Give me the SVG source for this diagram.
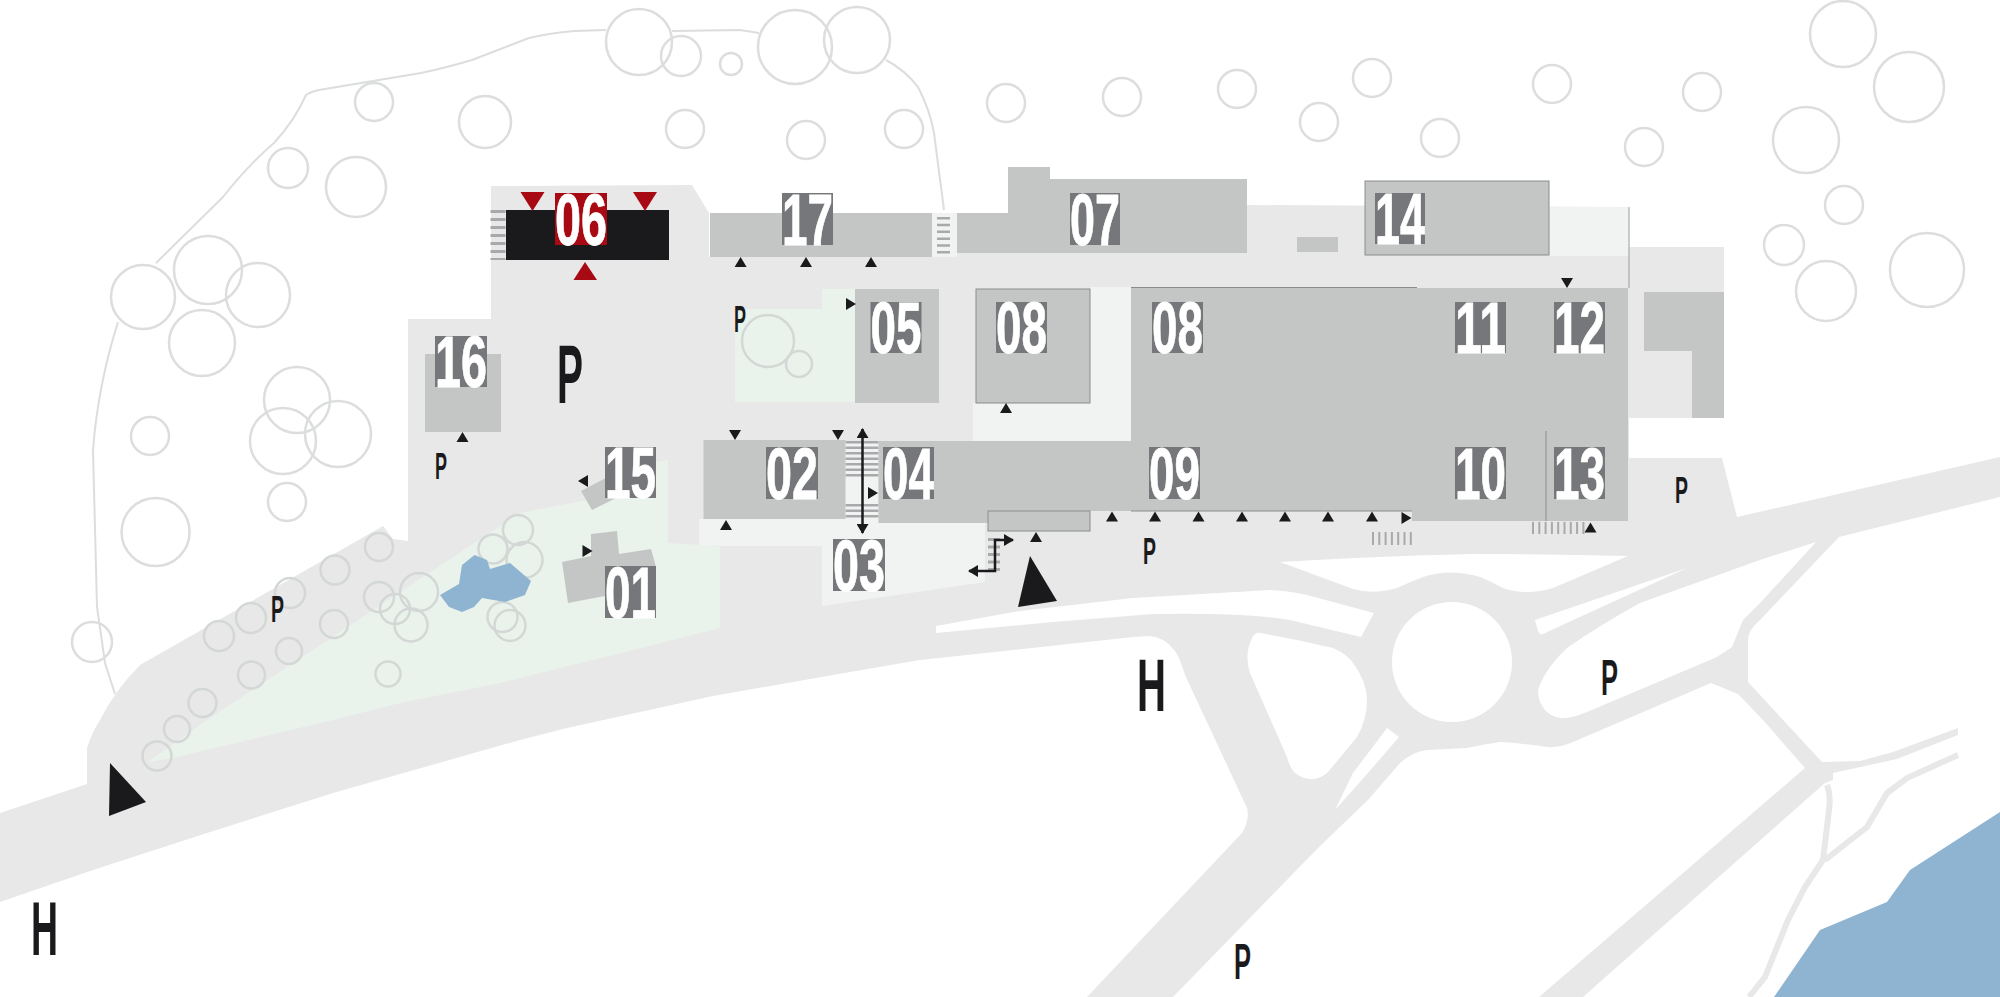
<svg xmlns="http://www.w3.org/2000/svg" xmlns:xlink="http://www.w3.org/1999/xlink" width="2000" height="997" viewBox="0 0 2000 997">
<style>
.b{fill:#c4c6c6}
.bs{fill:#c4c6c6;stroke:#8b8d8d;stroke-width:1}
.t{fill:none;stroke:#dcdddd;stroke-width:2.5}
.tg{fill:none;stroke:#d3d7d5;stroke-width:2.5}
.path{fill:none;stroke:#dcdddd;stroke-width:2}
.box{fill:#76777a}
.num{font-family:"Liberation Sans",Arial,sans-serif;font-weight:700;font-size:72px;fill:#fff;stroke:#fff;stroke-width:.8}
.mark{font-family:"Liberation Sans",Arial,sans-serif;font-weight:700;fill:#1a1a1c}
.road{fill:#e8e8e9}
.lite{fill:#f1f2f2}
.green{fill:#e9f3ec}
.water{fill:#8fb4d2}
.k{fill:#1a1a1c}
.red{fill:#a80a14}
.st{fill:none;stroke:#a8a9ab}
.thin{fill:none;stroke:#e8e8e9;stroke-width:6}
.arr{fill:none;stroke:#1a1a1c;stroke-width:2.5}
</style>
<defs>
<path id="tu" d="M0,-5 L6,5 L-6,5Z"/>
<path id="td" d="M0,5 L6,-5 L-6,-5Z"/>
<path id="tr" d="M5,0 L-5,6 L-5,-6Z"/>
<path id="tl" d="M-5,0 L5,6 L5,-6Z"/>
<marker id="ah" viewBox="0 0 10 12" refX="9" refY="6" markerWidth="10" markerHeight="12" markerUnits="userSpaceOnUse" orient="auto-start-reverse"><path d="M0,0 L10,6 L0,12Z" fill="#1a1a1c"/></marker>
</defs>
<rect width="2000" height="997" fill="#fff"/>
<g id="ground">
<path class="road" d="M0,813 L87,784 L87,748 Q92,732 100,720 Q115,690 140,665 L383,526 L393,539 L408,541 L408,319 L491,319 L491,186 L692,185 L709,213 L709,257 L957,257 L957,253 L1247,253 L1247,205 L1629,207 L1629,247 L1724,247 L1724,418 L1629,418 L1629,458 L1722,458 L1737,517 L2000,457 L2000,497 L1839,537 L1760,620 Q1748,630 1748,640 L1748,682 L1822,762 L1860,761 L1893,752 L1958,728 L1958,735 L1897,759 L1833,773 L1833,780 L1825,783 L1583,997 L1539,997 L1805,768 L1763,720 L1738,694 L1711,683 L1573,742 Q1560,748 1547,747 Q1520,743 1500,742 Q1485,744 1467,748 L1427,750 Q1412,752 1400,763 L1368,800 L1319,847 L1173,997 L1087,997 L1242,833 Q1250,820 1247,808 L1185,675 Q1178,652 1172,648 Q1165,638 1150,636 L1133,637 L920,660 L850,672 L713,696 L567,728 L520,740 L333,793 L207,833 L93,870 L0,902Z"/>
<path class="lite" d="M1549,207 L1629,207 L1629,256 L1549,256Z"/>
<path class="lite" d="M699,519 L880,519 L880,523 L985,523 L985,582 L822,606 L822,546 L699,546Z"/>
<path class="lite" d="M973,403 L1090,403 L1090,287 L1131,287 L1131,441 L973,441Z"/>
<path class="lite" d="M845,441 H878 V519 H845Z"/>
<path class="lite" d="M932,213 H957 V257 H932Z"/>
<path fill="none" stroke="#9a9c9c" stroke-width="1" d="M1629,207 V288"/>
<path class="green" d="M735,309 L822,309 L822,289 L855,289 L855,402 L735,402Z"/>
<path class="green" d="M148,762 L207,720 L520,513 L602,497 L655,462 L668,460 L668,543 L699,545 L720,547 L720,628 L633,650 L500,683 L400,703 L333,720 L173,758Z"/>
<g fill="#fff">
<path d="M936,626 L1020,611 L1133,598 L1270,590 Q1290,591 1307,595 L1374,613 L1361,637 L1290,620 Q1265,616 1240,615 Q1200,613 1153,614 L1053,622 L936,633Z"/>
<circle cx="1452" cy="662" r="60"/>
<path d="M1280,562 Q1380,556 1473,554 Q1550,554 1628,556 L1553,588 Q1527,596 1503,588 Q1490,581 1480,577 Q1450,568 1423,577 Q1408,583 1397,588 Q1373,595 1353,589Z"/>
<path d="M1261,633 L1297,640 L1333,648 Q1348,655 1353,663 Q1367,682 1367,700 Q1367,720 1357,737 L1328,772 Q1313,786 1295,773 Q1290,768 1287,757 L1250,673 Q1244,655 1252,638 Q1255,632 1261,633Z"/>
<path d="M1387,728 L1399,737 L1368,773 L1335,810 L1353,773Z"/>
<path d="M1535,620 L1687,568 L1547,632 Q1540,637 1538,631Z"/>
<path d="M1538,690 Q1542,678 1550,667 Q1558,656 1567,648 Q1600,625 1640,603 L1760,560 L1816,542 L1760,603 L1743,620 L1732,647 L1717,657 L1587,712 Q1570,719 1560,718 Q1550,716 1545,710 Q1538,702 1538,690Z"/>
</g>
<path class="thin" stroke-width="7" d="M1827,785 Q1831,795 1829,810 L1823,860 L1805,887 L1788,920 L1765,977 L1749,997"/>
<path class="thin" d="M1825,860 L1867,827 L1887,793 L1907,778 L1958,755"/>
<path class="water" d="M2000,812 L1910,870 L1887,902 L1820,930 L1774,997 L2000,997Z"/>
</g>
<g id="garden">
<path class="path" d="M606,30 L574,31 Q550,33 529,38 L472,60 Q445,68 421,73 L319,90 Q310,92 306,95 Q295,120 274,143 Q248,165 223,197 L156,263"/>
<path class="path" d="M118,322 Q98,385 93,450 L97,607 L105,663 L115,694"/>
<path class="path" d="M672,31 L740,30 L759,33"/>
<path class="path" d="M886,60 Q905,70 918,87 Q930,110 934,133 L944,210"/>
<circle class="t" cx="639" cy="42" r="33"/><circle class="t" cx="681" cy="56" r="20"/><circle class="t" cx="731" cy="64" r="11"/><circle class="t" cx="795" cy="47" r="37"/><circle class="t" cx="857" cy="40" r="33"/><circle class="t" cx="374" cy="102" r="19"/><circle class="t" cx="485" cy="122" r="26"/><circle class="t" cx="288" cy="168" r="20"/><circle class="t" cx="356" cy="187" r="30"/><circle class="t" cx="685" cy="129" r="19"/><circle class="t" cx="806" cy="140" r="19"/><circle class="t" cx="904" cy="129" r="19"/><circle class="t" cx="1006" cy="103" r="19"/><circle class="t" cx="1122" cy="97" r="19"/><circle class="t" cx="1237" cy="89" r="19"/><circle class="t" cx="1372" cy="78" r="19"/><circle class="t" cx="1319" cy="122" r="19"/><circle class="t" cx="1440" cy="138" r="19"/><circle class="t" cx="1552" cy="84" r="19"/><circle class="t" cx="1644" cy="147" r="19"/><circle class="t" cx="1702" cy="92" r="19"/><circle class="t" cx="1843" cy="34" r="33"/><circle class="t" cx="1909" cy="87" r="35"/><circle class="t" cx="1806" cy="140" r="33"/><circle class="t" cx="1844" cy="205" r="19"/><circle class="t" cx="1784" cy="245" r="20"/><circle class="t" cx="1826" cy="291" r="30"/><circle class="t" cx="1927" cy="270" r="37"/>
<circle class="t" cx="143" cy="297" r="32"/><circle class="t" cx="208" cy="270" r="34"/><circle class="t" cx="258" cy="295" r="32"/><circle class="t" cx="202" cy="343" r="33"/><circle class="t" cx="297" cy="400" r="33"/><circle class="t" cx="338" cy="434" r="33"/><circle class="t" cx="283" cy="441" r="33"/><circle class="t" cx="150" cy="436" r="19"/><circle class="t" cx="287" cy="502" r="19"/><circle class="t" cx="155.6" cy="532" r="34"/><circle class="t" cx="92" cy="642" r="20"/>
<circle class="tg" cx="379" cy="547" r="14"/><circle class="tg" cx="335" cy="570" r="14.5"/><circle class="tg" cx="290" cy="593" r="15"/><circle class="tg" cx="251" cy="618" r="15"/><circle class="tg" cx="219" cy="636" r="15"/><circle class="tg" cx="289" cy="651" r="13"/><circle class="tg" cx="251.5" cy="675" r="13.5"/><circle class="tg" cx="202.5" cy="703" r="14"/><circle class="tg" cx="177" cy="729" r="13"/><circle class="tg" cx="157" cy="756" r="14.5"/><circle class="tg" cx="334" cy="624" r="14"/><circle class="tg" cx="379" cy="597" r="15"/><circle class="tg" cx="395" cy="609" r="15"/><circle class="tg" cx="419" cy="592" r="19"/><circle class="tg" cx="411" cy="625" r="16.5"/><circle class="tg" cx="388" cy="674" r="12.5"/><circle class="tg" cx="518" cy="530" r="15"/><circle class="tg" cx="493" cy="549" r="14.5"/><circle class="tg" cx="524.5" cy="560" r="18"/><circle class="tg" cx="502.5" cy="617" r="15"/><circle class="tg" cx="510" cy="625.5" r="15.5"/><circle class="tg" cx="768" cy="341" r="26"/><circle class="tg" cx="799" cy="364" r="13"/>
<path class="water" d="M440,595 L459,584 L462,565 L474.5,555 L487,560 L490,569 L510,563 L531,581 L525,595 L505,602 L482,598 L474,607 L462,612 L449,607Z"/>
</g>
<g id="stairs">
<path class="st" stroke-width="15" stroke-dasharray="3 5" d="M498,210 V260"/>
<path class="st" stroke-width="13" stroke-dasharray="2.500 4.300" d="M943.500,217 V254"/>
<path class="st" stroke-width="33" stroke-dasharray="2.500 3" d="M862,441 V477"/>
<path class="st" stroke-width="33" stroke-dasharray="2.500 3" d="M862,504 V519"/>
<path class="st" stroke-width="12" stroke-dasharray="3 4.500" d="M994,538 V574"/>
<path class="st" stroke-width="13" stroke-dasharray="2 4.300" d="M1372,538.500 H1412"/>
<path class="st" stroke-width="12" stroke-dasharray="2 4.300" d="M1532,528 H1585"/>
</g>
<g id="other-buildings">
<path class="b" d="M1644,292 H1724 V418 H1692 V351 H1644Z"/>
<rect class="b" x="1297" y="237" width="41" height="15"/>
<path class="b" d="M1131,288 H1628 V521 H1412 V511 H1090 V441 H1131Z"/>
</g>
<g id="n01"><path class="b" d="M562,562 L591,556 V534 L617,531 L619,554 L651,549 L656,567 V600 L605,596 L568,603Z"/><rect class="box" x="605" y="566" width="51" height="52"/><text class="num" x="605" y="618" textLength="51" lengthAdjust="spacingAndGlyphs">01</text></g>
<g id="n02"><rect class="b" x="703.500" y="440" width="142" height="79"/><rect class="box" x="766" y="447" width="52" height="52"/><text class="num" x="766" y="499" textLength="52" lengthAdjust="spacingAndGlyphs">02</text></g>
<g id="n03"><rect class="box" x="833" y="539" width="52" height="52"/><text class="num" x="833" y="591" textLength="52" lengthAdjust="spacingAndGlyphs">03</text></g>
<g id="n04"><path class="b" d="M878.500,441 H1131 V511 H988 V523 H878.500Z"/><rect class="box" x="883" y="447" width="51" height="52"/><text class="num" x="883" y="499" textLength="51" lengthAdjust="spacingAndGlyphs">04</text></g>
<g id="n05"><rect class="b" x="855" y="289" width="84" height="114"/><rect class="box" x="870.500" y="302" width="51" height="51"/><text class="num" x="870.500" y="353" textLength="51" lengthAdjust="spacingAndGlyphs">05</text></g>
<g id="n06"><rect class="k" x="506" y="210" width="163" height="50"/><rect class="red" x="555" y="193" width="52" height="52"/><text class="num" x="555" y="245" textLength="52" lengthAdjust="spacingAndGlyphs">06</text></g>
<g id="n07"><path class="b" d="M957,213 H1008 V167 H1050 V179 H1247 V253 H957Z"/><rect class="box" x="1070" y="193" width="50" height="52"/><text class="num" x="1070" y="245" textLength="50" lengthAdjust="spacingAndGlyphs">07</text></g>
<g id="n08a"><rect class="bs" x="976" y="289" width="114" height="114"/><rect class="box" x="996" y="302" width="51" height="51"/><text class="num" x="996" y="353" textLength="51" lengthAdjust="spacingAndGlyphs">08</text></g>
<g id="n08b"><path fill="none" stroke="#8b8d8d" stroke-width="1" d="M1131,287.500 H1417"/><rect class="box" x="1152" y="302" width="51" height="51"/><text class="num" x="1152" y="353" textLength="51" lengthAdjust="spacingAndGlyphs">08</text></g>
<g id="n09"><path fill="none" stroke="#8b8d8d" stroke-width="1" d="M1131,511 H1412"/><rect class="box" x="1149" y="447" width="51" height="52"/><text class="num" x="1149" y="499" textLength="51" lengthAdjust="spacingAndGlyphs">09</text></g>
<g id="annex"><rect class="bs" x="988" y="511" width="102" height="20"/></g>
<g id="n10"><rect class="box" x="1455" y="447" width="51" height="52"/><text class="num" x="1455" y="499" textLength="51" lengthAdjust="spacingAndGlyphs">10</text></g>
<g id="n11"><rect class="box" x="1455" y="302" width="51" height="51"/><text class="num" x="1455" y="353" textLength="51" lengthAdjust="spacingAndGlyphs">11</text></g>
<g id="n12"><rect class="box" x="1554" y="302" width="51" height="51"/><text class="num" x="1554" y="353" textLength="51" lengthAdjust="spacingAndGlyphs">12</text></g>
<g id="n13"><path fill="none" stroke="#8b8d8d" stroke-width="1" d="M1546,431 V521"/><rect class="box" x="1554" y="447" width="51" height="52"/><text class="num" x="1554" y="499" textLength="51" lengthAdjust="spacingAndGlyphs">13</text></g>
<g id="n14"><rect class="bs" x="1365" y="181" width="184" height="74"/><rect class="box" x="1375" y="193" width="50" height="51"/><text class="num" x="1375" y="244" textLength="50" lengthAdjust="spacingAndGlyphs">14</text></g>
<g id="n15"><path class="b" d="M581,491 L625,468 L636,488 L592,510Z"/><rect class="box" x="605" y="447" width="51" height="51"/><text class="num" x="605" y="498" textLength="51" lengthAdjust="spacingAndGlyphs">15</text></g>
<g id="n16"><rect class="b" x="425" y="354" width="76" height="78"/><rect class="box" x="435" y="336" width="52" height="51"/><text class="num" x="435" y="387" textLength="52" lengthAdjust="spacingAndGlyphs">16</text></g>
<g id="n17"><rect class="b" x="710" y="213" width="222" height="44"/><rect class="box" x="782" y="193" width="51" height="52"/><text class="num" x="782" y="245" textLength="51" lengthAdjust="spacingAndGlyphs">17</text></g>
<g id="marks">
<text class="mark" font-size="84" x="557" y="403" textLength="26" lengthAdjust="spacingAndGlyphs">P</text>
<text class="mark" font-size="36" x="734" y="332" textLength="12" lengthAdjust="spacingAndGlyphs">P</text>
<text class="mark" font-size="36" x="435" y="479" textLength="12" lengthAdjust="spacingAndGlyphs">P</text>
<text class="mark" font-size="36" x="271" y="622" textLength="13" lengthAdjust="spacingAndGlyphs">P</text>
<text class="mark" font-size="36" x="1675" y="503" textLength="13" lengthAdjust="spacingAndGlyphs">P</text>
<text class="mark" font-size="36" x="1143" y="564" textLength="13" lengthAdjust="spacingAndGlyphs">P</text>
<text class="mark" font-size="50" x="1601" y="695" textLength="17" lengthAdjust="spacingAndGlyphs">P</text>
<text class="mark" font-size="50" x="1234" y="979" textLength="17" lengthAdjust="spacingAndGlyphs">P</text>
<text class="mark" font-size="75" x="1137" y="711" textLength="29" lengthAdjust="spacingAndGlyphs">H</text>
<text class="mark" font-size="76" x="31" y="955" textLength="27" lengthAdjust="spacingAndGlyphs">H</text>
</g>
<g id="connectors">
<path class="k" d="M110,763 L146,802 L109,816Z"/>
<path class="k" d="M1030,556 L1057,601 L1018,607Z"/>
<path class="red" d="M520.500,192 H544.500 L532.500,211Z"/>
<path class="red" d="M633,192 H657 L645,211Z"/>
<path class="red" d="M585,262 L597,280 H573.500Z"/>
<g class="k">
<use xlink:href="#tu" href="#tu" x="740.600" y="262"/><use xlink:href="#tu" href="#tu" x="806" y="262"/><use xlink:href="#tu" href="#tu" x="871" y="262"/>
<use xlink:href="#tu" href="#tu" x="462.500" y="437"/><use xlink:href="#tu" href="#tu" x="726" y="525"/><use xlink:href="#tu" href="#tu" x="1006" y="408"/><use xlink:href="#tu" href="#tu" x="1036" y="537"/>
<use xlink:href="#tu" href="#tu" x="1112" y="516.500"/><use xlink:href="#tu" href="#tu" x="1155" y="516.500"/><use xlink:href="#tu" href="#tu" x="1198.500" y="516.500"/><use xlink:href="#tu" href="#tu" x="1242" y="516.500"/><use xlink:href="#tu" href="#tu" x="1285" y="516.500"/><use xlink:href="#tu" href="#tu" x="1328" y="516.500"/><use xlink:href="#tu" href="#tu" x="1372" y="516.500"/>
<use xlink:href="#tu" href="#tu" x="1590.500" y="527.500"/>
<use xlink:href="#td" href="#td" x="735" y="435"/><use xlink:href="#td" href="#td" x="838" y="435"/><use xlink:href="#td" href="#td" x="1567" y="283"/>
<use xlink:href="#tr" href="#tr" x="851" y="304"/><use xlink:href="#tr" href="#tr" x="873" y="493"/><use xlink:href="#tr" href="#tr" x="1406.500" y="518"/><use xlink:href="#tr" href="#tr" x="587.500" y="551"/>
<use xlink:href="#tl" href="#tl" x="583" y="481"/>
</g>
<path class="arr" marker-start="url(#ah)" marker-end="url(#ah)" d="M862.500,429 V533"/>
<path class="arr" marker-start="url(#ah)" marker-end="url(#ah)" d="M1013,540 H995 V571 H969"/>
</g>
</svg>
